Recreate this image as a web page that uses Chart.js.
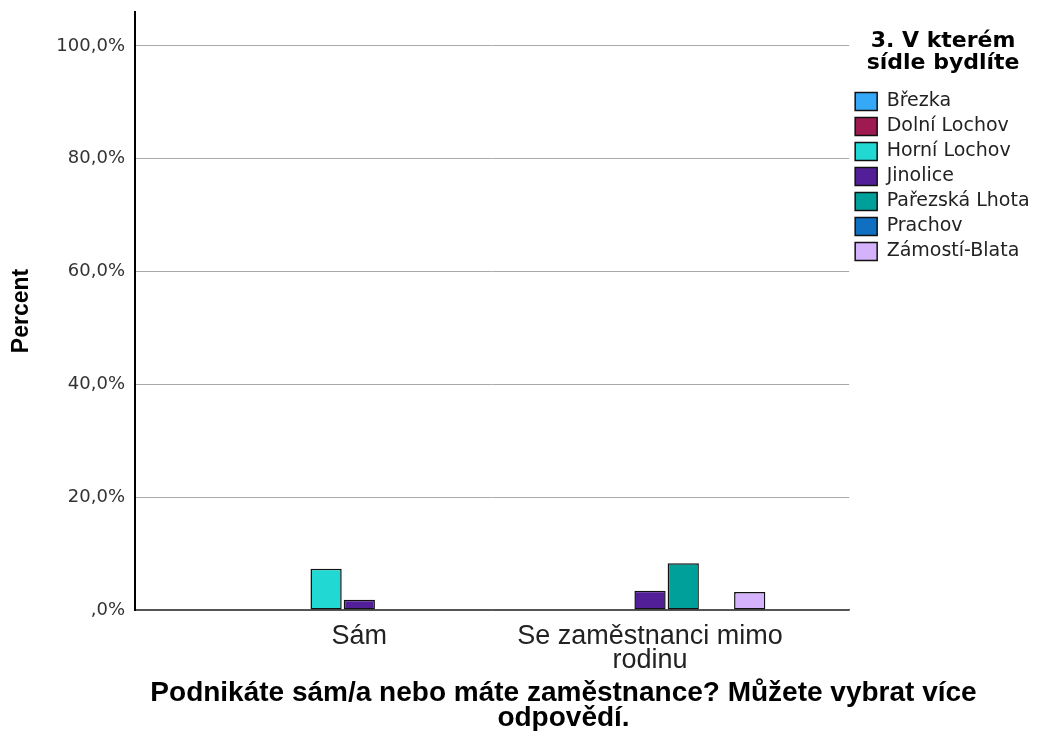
<!DOCTYPE html>
<html>
<head>
<meta charset="utf-8">
<script src="https://cdn.jsdelivr.net/npm/chart.js@4/dist/chart.umd.min.js"></script>
<style>
  html, body { margin: 0; padding: 0; background: #ffffff; overflow: hidden; }
  #wrap { position: relative; width: 1037px; height: 731px; }
</style>
</head>
<body>
<div id="wrap"><canvas id="c"></canvas></div>
<script>
// Categories (x axis)
const categories = ['Sám', ['Se zaměstnanci mimo', 'rodinu']];
// Series (percent), one per settlement
const seriesNames = ['Březka', 'Dolní Lochov', 'Horní Lochov', 'Jinolice', 'Pařezská Lhota', 'Prachov', 'Zámostí-Blata'];
const brezka        = [0, 0];
const dolniLochov   = [0, 0];
const horniLochov   = [7.3, 0];
const jinolice      = [1.8, 3.4];
const parezskaLhota = [0, 8.3];
const prachov       = [0, 0];
const zamostiBlata  = [0, 3.2];
const seriesColors = ['#35a9f7', '#9e1a50', '#22d8d2', '#521f99', '#00a09a', '#0f6fc0', '#d4b2fc'];
// Y tick values
const yTicks = [0, 20, 40, 60, 80, 100];
const xTitle = ['Podnikáte sám/a nebo máte zaměstnance? Můžete vybrat více', 'odpovědí.'];
const yTitle = 'Percent';
const legendTitle = ['3. V kterém', 'sídle bydlíte'];

const seriesValues = [brezka, dolniLochov, horniLochov, jinolice, parezskaLhota, prachov, zamostiBlata];

const datasets = seriesNames.map((name, i) => ({
  label: name,
  data: seriesValues[i].map((v, j) => ({ x: j + 1, y: v })),
  backgroundColor: seriesColors[i],
  borderColor: '#111111',
  borderWidth: 1.5,
  borderSkipped: false,
  categoryPercentage: 0.8,
  barPercentage: 0.94
}));

new Chart(document.getElementById('c'), {
  type: 'bar',
  data: { datasets },
  options: {
    responsive: true,
    maintainAspectRatio: false,
    animation: false,
    layout: { padding: { top: 12, left: 0, right: -90, bottom: 0 } },
    plugins: {
      tooltip: { enabled: false },
      legend: {
        position: 'right',
        align: 'start',
        title: {
          display: true,
          text: legendTitle,
          color: '#000',
          font: { family: 'DejaVu Sans', weight: 'bold', size: 22, lineHeight: '22px' },
          padding: { top: 18, bottom: 34 }
        },
        labels: {
          boxWidth: 22,
          boxHeight: 18,
          padding: 6,
          color: '#222',
          font: { family: 'DejaVu Sans', size: 19 }
        }
      },
      title: {
        display: true,
        position: 'bottom',
        text: xTitle,
        color: '#000',
        font: { family: 'Liberation Sans', weight: 'bold', size: 28, lineHeight: '25px' },
        padding: { top: 3, bottom: 0 }
      }
    },
    scales: {
      x: {
        type: 'linear',
        min: 0.2284,
        max: 2.685,
        offset: false,
        afterBuildTicks: (s) => { s.ticks = categories.map((c, i) => ({ value: i + 1 })); },
        afterFit: (s) => { s.height = 68; },
        grid: { display: false, drawTicks: false },
        border: { display: true, color: '#555', width: 1.5 },
        ticks: {
          autoSkip: false,
          maxRotation: 0,
          padding: 15,
          color: '#222',
          font: { family: 'Liberation Sans', size: 27, lineHeight: '24px' },
          callback: (v) => categories[Math.round(v) - 1]
        }
      },
      y: {
        min: 0,
        max: 106,
        afterBuildTicks: (s) => { s.ticks = yTicks.map(v => ({ value: v })); },
        afterFit: (s) => { s.width = 135; s.paddingTop = 0; s.paddingBottom = 0; },
        grid: {
          drawTicks: false,
          color: (ctx) => (ctx.tick && ctx.tick.value === 0) ? '#555' : '#aaaaaa',
          lineWidth: 1
        },
        border: { display: true, color: '#000', width: 2 },
        ticks: {
          padding: 10,
          color: '#333',
          font: { family: 'DejaVu Sans', size: 18 },
          callback: (v) => v === 0 ? ',0%' : v.toFixed(1).replace('.', ',') + '%'
        },
        title: {
          display: true,
          text: yTitle,
          color: '#000',
          font: { family: 'Liberation Sans', weight: 'bold', size: 23, lineHeight: 1.2 },
          padding: { top: 8, bottom: 0 }
        }
      },
      // empty outer margin on the right, beyond the legend
      margin: {
        type: 'linear',
        position: 'right',
        weight: 2000,
        display: true,
        afterFit: (s) => { s.width = 90; },
        grid: { display: false, drawTicks: false },
        border: { display: false },
        ticks: { display: false }
      }
    }
  }
});
</script>
</body>
</html>
